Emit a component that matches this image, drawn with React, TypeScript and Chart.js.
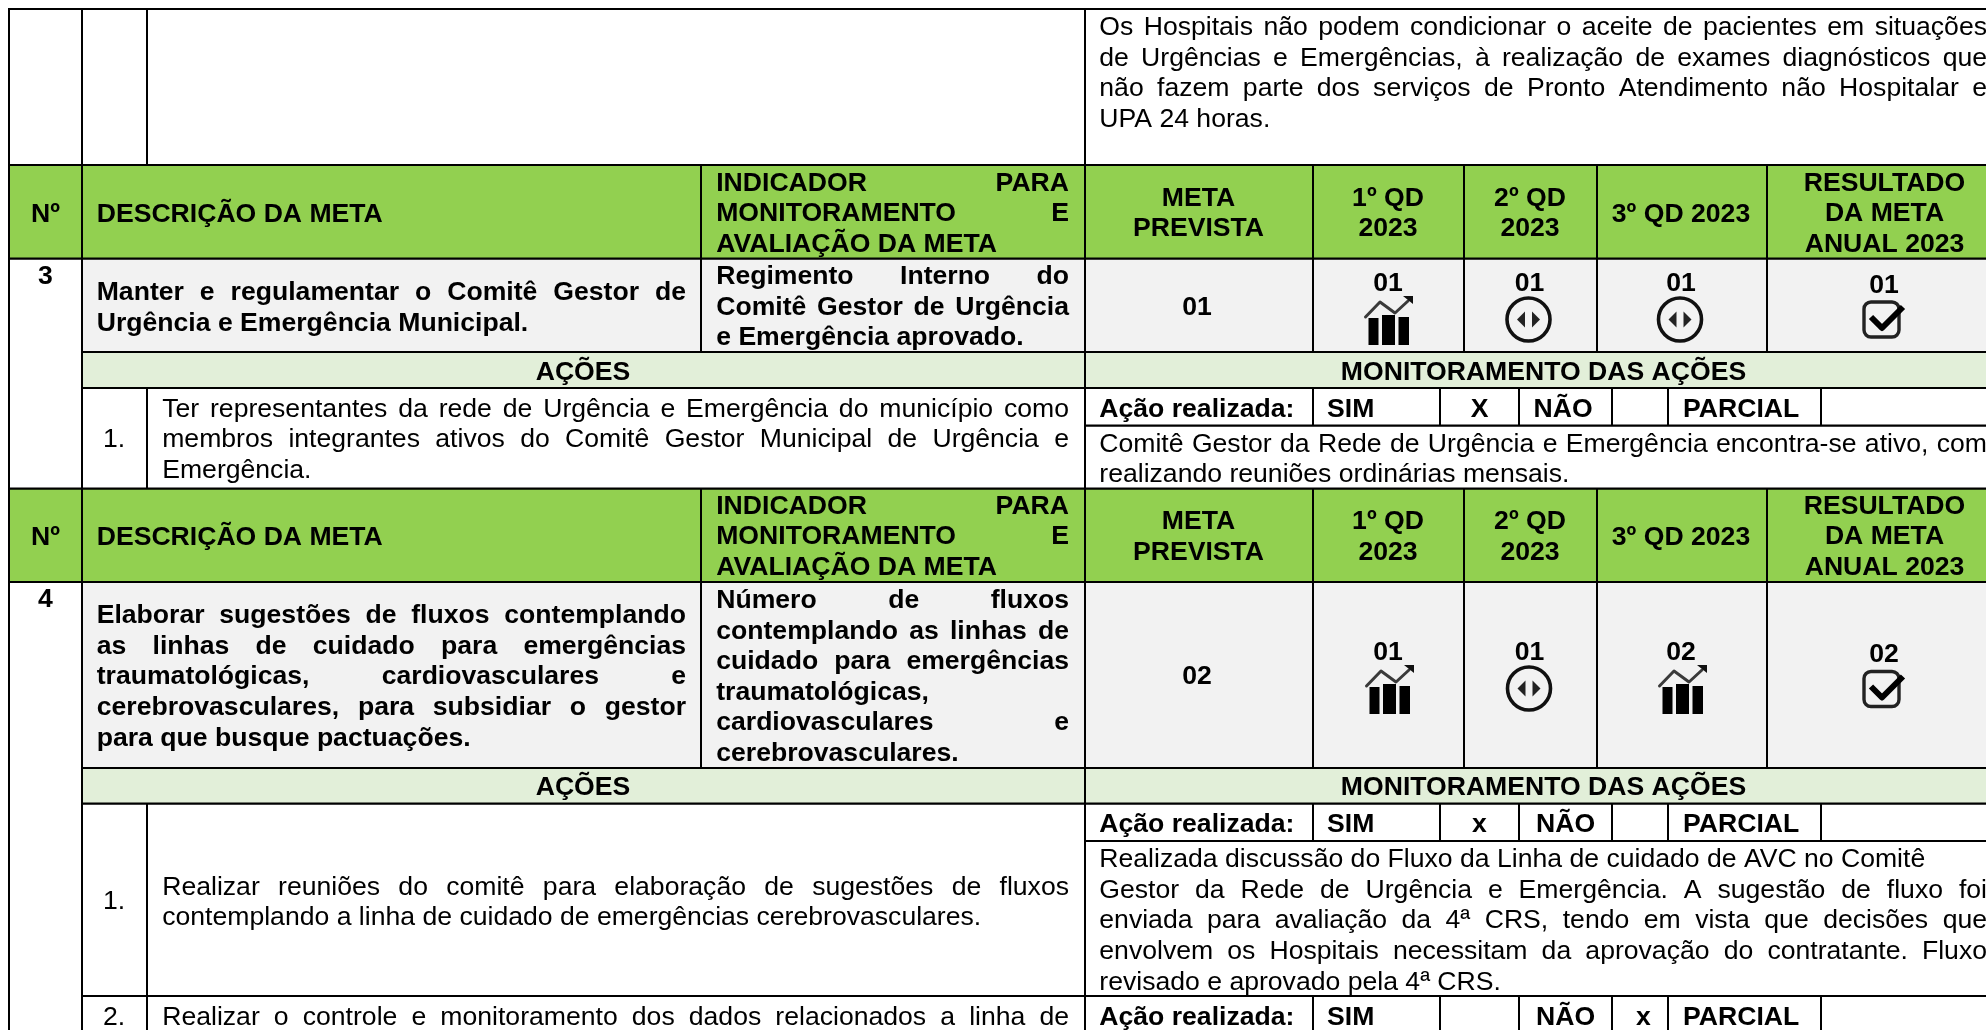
import React, { useEffect, useRef } from "react";
import { Chart, registerables } from "chart.js";

Chart.register(...registerables);

// ---- Content ----
const topNote = [
  "Os Hospitais não podem condicionar o aceite de pacientes em situações",
  "de Urgências e Emergências, à realização de exames diagnósticos que",
  "não fazem parte dos serviços de Pronto Atendimento não Hospitalar e",
  "UPA 24 horas.",
];
const hNumber = ["Nº"];
const hDescription = ["DESCRIÇÃO DA META"];
const hIndicator = ["INDICADOR PARA", "MONITORAMENTO E", "AVALIAÇÃO DA META"];
const hTarget = ["META", "PREVISTA"];
const hQ1 = ["1º QD", "2023"];
const hQ2 = ["2º QD", "2023"];
const hQ3 = ["3º QD 2023"];
const hResult = ["RESULTADO", "DA META", "ANUAL 2023"];
const actionsTitle = ["AÇÕES"];
const monitorTitle = ["MONITORAMENTO DAS AÇÕES"];
const actionDone = ["Ação realizada:"];
const yesLabel = ["SIM"];
const noLabel = ["NÃO"];
const partialLabel = ["PARCIAL"];

const goal3Number = ["3"];
const goal3Desc = ["Manter e regulamentar o Comitê Gestor de", "Urgência e Emergência Municipal."];
const goal3Indicator = ["Regimento Interno do", "Comitê Gestor de Urgência", "e Emergência aprovado."];
const goal3Values = ["01", "01", "01", "01", "01"];
const goal3Action = [
  "Ter representantes da rede de Urgência e Emergência do município como",
  "membros integrantes ativos do Comitê Gestor Municipal de Urgência e",
  "Emergência.",
];
const goal3Monitor = [
  "Comitê Gestor da Rede de Urgência e Emergência encontra-se ativo, com",
  "realizando reuniões ordinárias mensais.",
];

const goal4Number = ["4"];
const goal4Desc = [
  "Elaborar sugestões de fluxos contemplando",
  "as linhas de cuidado para emergências",
  "traumatológicas, cardiovasculares e",
  "cerebrovasculares, para subsidiar o gestor",
  "para que busque pactuações.",
];
const goal4Indicator = [
  "Número de fluxos",
  "contemplando as linhas de",
  "cuidado para emergências",
  "traumatológicas,",
  "cardiovasculares e",
  "cerebrovasculares.",
];
const goal4Values = ["02", "01", "01", "02", "02"];
const goal4Action1 = [
  "Realizar reuniões do comitê para elaboração de sugestões de fluxos",
  "contemplando a linha de cuidado de emergências cerebrovasculares.",
];
const goal4Monitor = [
  "Realizada discussão do Fluxo da Linha de cuidado de AVC no Comitê",
  "Gestor da Rede de Urgência e Emergência. A sugestão de fluxo foi",
  "enviada para avaliação da 4ª CRS, tendo em vista que decisões que",
  "envolvem os Hospitais necessitam da aprovação do contratante. Fluxo",
  "revisado e aprovado pela 4ª CRS.",
];
const goal4Action2 = ["Realizar o controle e monitoramento dos dados relacionados a linha de"];

// ---- Layout ----
const W = 1986;
const H = 1030;
const FONT = '"Liberation Sans", Arial, sans-serif';
const SIZE = 26.6;
const GREEN = "#92D050";
const GREY = "#F2F2F2";
const PALE = "#E2EFD9";

type Block = {
  lines: string[];
  base: number;
  lh?: number;
  x?: number;
  right?: number;
  cx?: number;
  bold?: boolean;
  plain?: number[];
  justifyAll?: boolean;
};

const X = { a: 9, b: 82, c: 147, d: 701, e: 1085, f: 1313, g: 1464, h: 1597, i: 1767, end: W + 2 };
const S = { no: 1440, x: 1519, yes: 1612, p: 1668, q: 1821 };
const LH = 30.7;

const fills: [number, number, number, number, string][] = [
  [X.a, 165, X.end, 258.7, GREEN],
  [X.b, 258.7, X.end, 352, GREY],
  [X.b, 352, X.end, 388, PALE],
  [X.a, 488.7, X.end, 582, GREEN],
  [X.b, 582, X.end, 768, GREY],
  [X.b, 768, X.end, 803.7, PALE],
];

const hRules: [number, number, number][] = [
  [9, X.a, W], [165, X.a, W], [258.7, X.a, W], [352, X.b, W], [388, X.b, W], [425.7, X.e, W],
  [488.7, X.a, W], [582, X.a, W], [768, X.b, W], [803.7, X.b, W], [841, X.e, W], [996, X.b, W],
];
const vRules: [number, number, number][] = [
  [X.a, 9, H], [X.b, 9, H], [X.c, 9, 165], [X.c, 388, 488.7], [X.c, 803.7, H], [X.e, 9, H],
  ...[X.d, X.f, X.g, X.h, X.i].flatMap((x): [number, number, number][] => [[x, 165, 352], [x, 488.7, 768]]),
  ...[X.f, S.no, S.x, S.yes, S.p, S.q].flatMap((x): [number, number, number][] => [[x, 388, 425.7], [x, 803.7, 841], [x, 996, H]]),
];

const headerBlocks = (y: number): Block[] => [
  { lines: hNumber, base: y + 56.5, cx: 45.5, bold: true },
  { lines: hDescription, base: y + 56.5, x: 96.7, bold: true },
  { lines: hIndicator, base: y + 25.5, x: 716.2, right: 1069, bold: true, lh: 30.5 },
  { lines: hTarget, base: y + 40.5, cx: 1198.5, bold: true },
  { lines: hQ1, base: y + 40.5, cx: 1388, bold: true },
  { lines: hQ2, base: y + 40.5, cx: 1530, bold: true },
  { lines: hQ3, base: y + 56.5, cx: 1681, bold: true },
  { lines: hResult, base: y + 25.5, cx: 1884.5, bold: true, lh: 30.5 },
];
const qCenters = [1197, 1388, 1529.5, 1681, 1884];

const blocks: Block[] = [
  { lines: topNote, base: 35, x: 1099.3, right: 1987, lh: 30.6 },
  ...headerBlocks(165),
  { lines: goal3Number, base: 284, cx: 45.5, bold: true },
  { lines: goal3Desc, base: 300, x: 96.7, right: 686, bold: true },
  { lines: goal3Indicator, base: 284, x: 716.2, right: 1069, bold: true },
  ...goal3Values.map((v, i): Block => ({ lines: [v], base: i === 0 ? 315 : i === 4 ? 292.5 : 290.5, cx: qCenters[i], bold: true })),
  { lines: actionsTitle, base: 380, cx: 583, bold: true },
  { lines: monitorTitle, base: 380, cx: 1543.5, bold: true },
  { lines: ["1."], base: 447, cx: 114 },
  { lines: goal3Action, base: 416.5, x: 162.2, right: 1069 },
  { lines: actionDone, base: 416.5, x: 1099.3, bold: true },
  { lines: yesLabel, base: 416.5, x: 1327, bold: true },
  { lines: ["X"], base: 416.5, cx: 1479.5, bold: true },
  { lines: noLabel, base: 416.5, x: 1533.5, bold: true },
  { lines: partialLabel, base: 416.5, x: 1683, bold: true },
  { lines: goal3Monitor, base: 451.5, x: 1099.3, right: 1987, lh: 30 },
  ...headerBlocks(488.3),
  { lines: goal4Number, base: 607, cx: 45.5, bold: true },
  { lines: goal4Desc, base: 623, x: 96.7, right: 686, bold: true },
  { lines: goal4Indicator, base: 608, x: 716.2, right: 1069, bold: true, plain: [3], lh: 30.6 },
  ...goal4Values.map((v, i): Block => ({ lines: [v], base: i === 0 ? 684 : i === 4 ? 662 : 660, cx: qCenters[i], bold: true })),
  { lines: actionsTitle, base: 795, cx: 583, bold: true },
  { lines: monitorTitle, base: 795, cx: 1543.5, bold: true },
  { lines: ["1."], base: 908.5, cx: 114 },
  { lines: goal4Action1, base: 894.5, x: 162.2, right: 1069 },
  { lines: actionDone, base: 831.5, x: 1099.3, bold: true },
  { lines: yesLabel, base: 831.5, x: 1327, bold: true },
  { lines: ["x"], base: 831.5, cx: 1479.5, bold: true },
  { lines: noLabel, base: 831.5, x: 1536, bold: true },
  { lines: partialLabel, base: 831.5, x: 1683, bold: true },
  { lines: goal4Monitor, base: 867, x: 1099.3, right: 1987, plain: [0], lh: 30.7 },
  { lines: ["2."], base: 1024.7, cx: 114 },
  { lines: goal4Action2, base: 1024.7, x: 162.2, right: 1069, justifyAll: true },
  { lines: actionDone, base: 1024.7, x: 1099.3, bold: true },
  { lines: yesLabel, base: 1024.7, x: 1327, bold: true },
  { lines: noLabel, base: 1024.7, x: 1536, bold: true },
  { lines: ["x"], base: 1024.7, cx: 1643.5, bold: true },
  { lines: partialLabel, base: 1024.7, x: 1683, bold: true },
];

type Icon = { kind: "trend" | "steady" | "check"; x: number; y: number };
const icons: Icon[] = [
  { kind: "trend", x: 1364, y: 295 },
  { kind: "steady", x: 1528.5, y: 319.5 },
  { kind: "steady", x: 1680, y: 319.5 },
  { kind: "check", x: 1862, y: 300 },
  { kind: "trend", x: 1365, y: 664 },
  { kind: "steady", x: 1529, y: 688.5 },
  { kind: "trend", x: 1658, y: 664 },
  { kind: "check", x: 1862, y: 669.5 },
];

function drawIcon(ctx: CanvasRenderingContext2D, ic: Icon, px: number, py: number) {
  ctx.save();
  ctx.translate(px, py);
  ctx.filter = "blur(0.5px)";
  ctx.lineCap = "round";
  ctx.lineJoin = "round";
  if (ic.kind === "trend") {
    ctx.fillStyle = "#000";
    const bars: [number, number, number, number][] = [[4.5, 14.5, 23, 50], [18, 31, 20, 50], [34.5, 45, 22, 50]];
    for (const [a, b, t, e] of bars) ctx.fillRect(a, t, b - a, e - t);
    ctx.strokeStyle = "#3a3a3a";
    ctx.lineWidth = 3;
    ctx.beginPath();
    ctx.moveTo(1.5, 22);
    ctx.lineTo(16, 7);
    ctx.lineTo(31, 18);
    ctx.lineTo(44, 6);
    ctx.stroke();
    ctx.fillStyle = "#111";
    ctx.beginPath();
    ctx.moveTo(39, 1);
    ctx.lineTo(49, 1);
    ctx.lineTo(49, 9);
    ctx.closePath();
    ctx.fill();
  } else if (ic.kind === "steady") {
    ctx.strokeStyle = "#111";
    ctx.lineWidth = 3.6;
    ctx.beginPath();
    ctx.arc(0, 0, 21.5, 0, Math.PI * 2);
    ctx.stroke();
    ctx.fillStyle = "#222";
    for (const dir of [-1, 1]) {
      ctx.beginPath();
      ctx.moveTo(dir * 3.5, -8);
      ctx.lineTo(dir * 11.5, 0);
      ctx.lineTo(dir * 3.5, 8);
      ctx.closePath();
      ctx.fill();
    }
  } else {
    ctx.strokeStyle = "#222";
    ctx.lineWidth = 3.4;
    ctx.beginPath();
    ctx.roundRect(2, 2, 35, 35, 7);
    ctx.stroke();
    ctx.strokeStyle = "#000";
    ctx.lineWidth = 6;
    ctx.lineCap = "butt";
    ctx.beginPath();
    ctx.moveTo(9, 17);
    ctx.lineTo(20, 28);
    ctx.lineTo(41, 7);
    ctx.stroke();
  }
  ctx.restore();
}

const tablePlugin = {
  id: "table",
  beforeDatasetsDraw(chart: any) {
    const { ctx, scales } = chart;
    const px = (v: number) => scales.x.getPixelForValue(v);
    const py = (v: number) => scales.y.getPixelForValue(v);
    ctx.save();
    for (const [x0, y0, x1, y1, color] of fills) {
      ctx.fillStyle = color;
      ctx.fillRect(px(x0), py(y0), px(x1) - px(x0), py(y1) - py(y0));
    }
    ctx.restore();
  },
  afterDatasetsDraw(chart: any) {
    const { ctx, scales } = chart;
    const px = (v: number) => scales.x.getPixelForValue(v);
    const py = (v: number) => scales.y.getPixelForValue(v);
    ctx.save();
    ctx.fillStyle = "#000";
    ctx.textBaseline = "alphabetic";
    for (const b of blocks) {
      ctx.font = `${b.bold ? "bold " : ""}${SIZE}px ${FONT}`;
      const lh = b.lh ?? LH;
      b.lines.forEach((line, i) => {
        const y = py(b.base + i * lh);
        ctx.wordSpacing = "0px";
        if (b.cx !== undefined) {
          ctx.textAlign = "center";
          ctx.fillText(line, px(b.cx), y);
          return;
        }
        ctx.textAlign = "left";
        const isLast = i === b.lines.length - 1;
        const justify = b.right !== undefined && (!isLast || b.justifyAll) && !(b.plain || []).includes(i);
        if (justify) {
          const gaps = line.split(" ").length - 1;
          if (gaps > 0) {
            const natural = ctx.measureText(line).width;
            ctx.wordSpacing = `${(px(b.right!) - px(b.x!) - natural) / gaps}px`;
          }
        }
        ctx.fillText(line, px(b.x!), y);
      });
    }
    ctx.wordSpacing = "0px";
    for (const ic of icons) drawIcon(ctx, ic, px(ic.x), py(ic.y));
    ctx.restore();
  },
};

const ruleDatasets = [
  ...hRules.map(([y, a, b]) => ({ data: [{ x: a - 1, y }, { x: b, y }], borderWidth: 2.2 })),
  ...vRules.map(([x, a, b]) => ({ data: [{ x, y: a }, { x, y: b }], borderWidth: 2 })),
];

export default function App() {
  const ref = useRef<HTMLCanvasElement>(null);
  useEffect(() => {
    const chart = new Chart(ref.current!, {
      type: "scatter",
      data: {
        datasets: ruleDatasets.map((d) => ({
          ...d,
          showLine: true,
          borderColor: "#000",
          pointRadius: 0,
          clip: false,
        })),
      } as any,
      options: {
        animation: false,
        responsive: false,
        maintainAspectRatio: false,
        layout: { padding: 0 },
        plugins: { legend: { display: false }, tooltip: { enabled: false } },
        events: [],
        scales: {
          x: { type: "linear", min: 0, max: W, display: false },
          y: { type: "linear", min: 0, max: H, reverse: true, display: false },
        },
      },
      plugins: [tablePlugin],
    });
    return () => chart.destroy();
  }, []);
  return (
    <div style={{ position: "fixed", left: 0, top: 0, width: W, height: H, background: "#fff" }}>
      <canvas ref={ref} width={W} height={H} style={{ display: "block" }} />
    </div>
  );
}
